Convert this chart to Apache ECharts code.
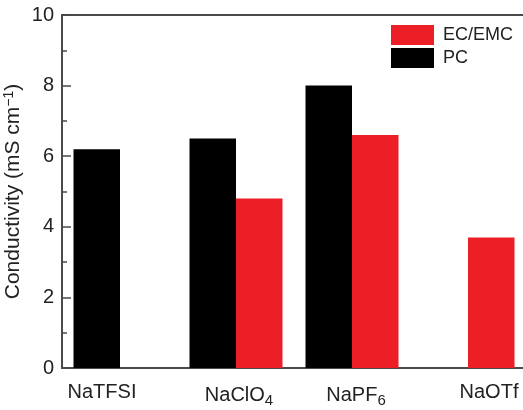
<!DOCTYPE html>
<html>
<head>
<meta charset="utf-8">
<script src="https://cdn.jsdelivr.net/npm/echarts@6/dist/echarts.min.js"></script>
<style>
  html, body { margin: 0; padding: 0; background: #fff; }
  #chart { width: 523px; height: 410px; }
</style>
</head>
<body>
<div id="chart"></div>
<script>
// Electrolyte salts and their ionic conductivity (mS cm^-1) in two solvents
const salts = ['NaTFSI', 'NaClO4', 'NaPF6', 'NaOTf'];
const pcValues = [6.2, 6.5, 8.0, null];
const ecEmcValues = [null, 4.8, 6.6, 3.7];
const yTicks = [0, 2, 4, 6, 8, 10];

// Salt names with chemical subscripts, as rich-text fragments
const saltLabels = {
  NaTFSI: '{t0|NaTFSI}',
  NaClO4: '{t1|NaClO}{s1|4}',
  NaPF6: '{t2|NaPF}{s2|6}',
  NaOTf: '{t3|NaOTf}'
};

const axisColor = '#4a4a4a';
const font = 'Liberation Sans, Arial, Helvetica, sans-serif';
const txt = { fontSize: 20, color: '#222', fontFamily: font };
const sub = { fontSize: 15, color: '#222', fontFamily: font, padding: [11, 0, 0, 0] };

const chart = echarts.init(document.getElementById('chart'));
chart.setOption({
  animation: false,
  grid: { left: 62, top: 15, width: 464, height: 353, outerBoundsMode: 'none', containLabel: false },
  legend: {
    orient: 'vertical',
    left: 391, top: 25,
    padding: 0,
    itemWidth: 43, itemHeight: 20, itemGap: 3,
    data: ['EC/EMC', 'PC'],
    textStyle: { fontSize: 18, color: '#222', fontFamily: font, padding: [0, 0, 0, 4] },
    icon: 'rect'
  },
  xAxis: [{
    type: 'category',
    data: salts,
    axisLine: { show: true, lineStyle: { color: axisColor, width: 2 } },
    axisTick: { show: false },
    axisLabel: {
      interval: 0,
      hideOverlap: false,
      margin: 14,
      formatter: v => saltLabels[v],
      rich: {
        t0: Object.assign({}, txt, { padding: [0, 36, 0, 0] }),
        t1: Object.assign({}, txt, { padding: [0, 0, 0, 6] }),
        s1: Object.assign({}, sub),
        t2: Object.assign({}, txt, { padding: [0, 0, 0, 8] }),
        s2: Object.assign({}, sub),
        t3: Object.assign({}, txt, { padding: [0, 0, 0, 42] })
      }
    },
    splitLine: { show: false }
  }, {
    type: 'category',
    position: 'top',
    data: salts,
    axisLine: { show: true, lineStyle: { color: axisColor, width: 2 } },
    axisTick: { show: false },
    axisLabel: { show: false }
  }],
  yAxis: {
    type: 'value',
    min: yTicks[0],
    max: yTicks[yTicks.length - 1],
    interval: 2,
    name: '{a|Conductivity (mS cm}{b|−1}{a|)}',
    nameLocation: 'middle',
    nameGap: 37,
    nameRotate: 90,
    nameMoveOverlap: false,
    nameTextStyle: {
      rich: {
        a: { fontSize: 21, color: '#222', fontFamily: font },
        b: { fontSize: 14, color: '#222', fontFamily: font, padding: [0, 0, 9, 0] }
      }
    },
    axisLine: { show: true, lineStyle: { color: axisColor, width: 2 } },
    axisTick: { show: true, inside: true, length: 9, lineStyle: { color: axisColor, width: 1.5 } },
    minorTick: { show: true, splitNumber: 2, length: 5, lineStyle: { color: axisColor, width: 1.5 } },
    axisLabel: { fontSize: 20, color: '#222', fontFamily: font, margin: 8 },
    splitLine: { show: false }
  },
  series: [{
    name: 'PC',
    type: 'bar',
    data: pcValues,
    barWidth: 46.5,
    barGap: '0%',
    itemStyle: { color: '#000000' }
  }, {
    name: 'EC/EMC',
    type: 'bar',
    data: ecEmcValues,
    barWidth: 46.5,
    barGap: '0%',
    itemStyle: { color: '#ec1f27' }
  }]
});
</script>
</body>
</html>
